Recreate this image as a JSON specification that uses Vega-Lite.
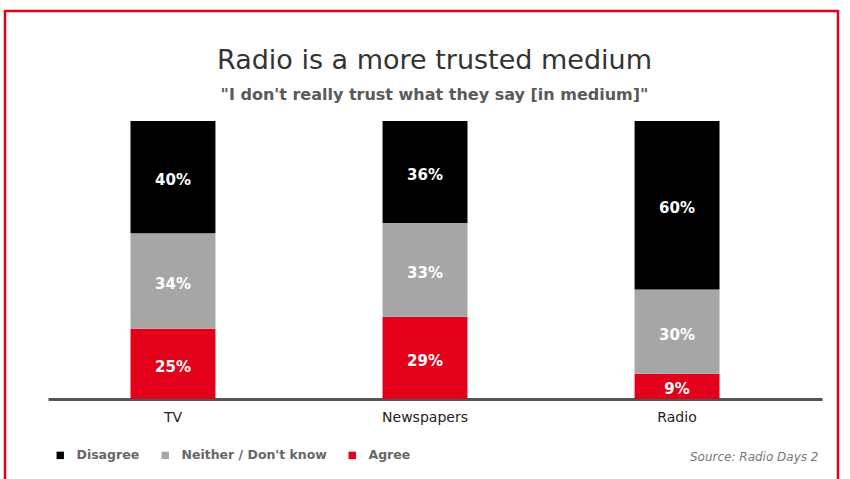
{
  "$schema": "https://vega.github.io/schema/vega-lite/v6.json",
  "autosize": {"type": "none"},
  "width": 833,
  "height": 475,
  "padding": {"left": 5, "top": 11, "right": 12, "bottom": -7},
  "background": "white",
  "config": {
    "view": {"stroke": "#e2001a", "strokeWidth": 2.5},
    "font": "DejaVu Sans"
  },
  "title": {
    "text": "Radio is a more trusted medium",
    "subtitle": "\"I don't really trust what they say [in medium]\"",
    "anchor": "middle",
    "frame": "group",
    "orient": "top",
    "offset": -93,
    "dx": 13,
    "fontSize": 27,
    "fontWeight": "normal",
    "color": "#333333",
    "subtitleFontSize": 16,
    "subtitleFontWeight": "bold",
    "subtitleColor": "#5a5a5a",
    "subtitlePadding": 12
  },
  "data": {
    "values": [
      {"medium": "TV", "response": "Agree", "order": 1, "value": 25},
      {"medium": "TV", "response": "Neither / Don't know", "order": 2, "value": 34},
      {"medium": "TV", "response": "Disagree", "order": 3, "value": 40},
      {"medium": "Newspapers", "response": "Agree", "order": 1, "value": 29},
      {"medium": "Newspapers", "response": "Neither / Don't know", "order": 2, "value": 33},
      {"medium": "Newspapers", "response": "Disagree", "order": 3, "value": 36},
      {"medium": "Radio", "response": "Agree", "order": 1, "value": 9},
      {"medium": "Radio", "response": "Neither / Don't know", "order": 2, "value": 30},
      {"medium": "Radio", "response": "Disagree", "order": 3, "value": 60}
    ]
  },
  "transform": [
    {"stack": "value", "groupby": ["medium"], "sort": [{"field": "order", "order": "ascending"}], "offset": "normalize", "as": ["y0", "y1"]},
    {"calculate": "(datum.y0 + datum.y1) / 2", "as": "ymid"},
    {"calculate": "datum.value + '%'", "as": "label"}
  ],
  "encoding": {
    "x": {
      "field": "medium",
      "type": "nominal",
      "sort": ["TV", "Newspapers", "Radio"],
      "scale": {"range": [43, 817], "paddingInner": 0.663, "paddingOuter": 0.367, "align": 0.446},
      "axis": {
        "title": "Source: Radio Days 2",
        "titleAnchor": "end",
        "titleAlign": "right",
        "titleX": 813,
        "titleY": 57,
        "titleBaseline": "middle",
        "titleFontStyle": "italic",
        "titleFontWeight": "normal",
        "titleFontSize": 12,
        "titleColor": "#777777",
        "offset": -87,
        "domainColor": "#555555",
        "domainWidth": 3,
        "ticks": false,
        "grid": false,
        "labelAngle": 0,
        "labelFontSize": 14,
        "labelColor": "#222222",
        "labelPadding": 11
      }
    }
  },
  "layer": [
    {
      "mark": {"type": "bar"},
      "encoding": {
        "y": {"field": "y0", "type": "quantitative", "scale": {"domain": [0, 1], "range": [388, 110], "nice": false, "zero": false}, "axis": null},
        "y2": {"field": "y1"},
        "color": {
          "field": "response",
          "type": "nominal",
          "scale": {"domain": ["Disagree", "Neither / Don't know", "Agree"], "range": ["#000000", "#a6a6a6", "#e2001a"]},
          "legend": {
            "orient": "none",
            "legendX": 49,
            "legendY": 438,
            "direction": "horizontal",
            "title": null,
            "padding": 0,
            "symbolType": "square",
            "symbolSize": 55,
            "symbolStrokeWidth": 0,
            "labelFontSize": 12.5,
            "labelFontWeight": "bold",
            "labelColor": "#666666",
            "labelOffset": 10,
            "columnPadding": 19
          }
        }
      }
    },
    {
      "mark": {"type": "text", "color": "white", "fontWeight": "bold", "fontSize": 15, "baseline": "middle", "dy": 3},
      "encoding": {
        "y": {"field": "ymid", "type": "quantitative"},
        "text": {"field": "label"}
      }
    }
  ]
}
